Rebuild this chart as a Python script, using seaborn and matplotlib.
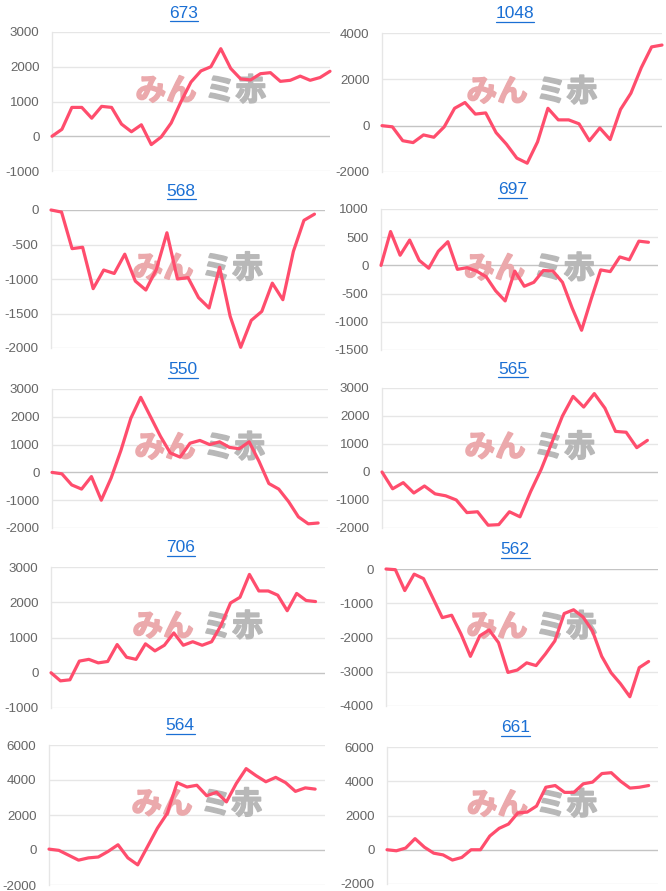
import matplotlib
matplotlib.use("Agg")
import matplotlib.pyplot as plt
import matplotlib.patheffects as pe
import seaborn as sns
import pandas as pd
from matplotlib.lines import Line2D

sns.set_style("white")
plt.rcParams["font.family"] = ["Liberation Sans", "DejaVu Sans"]

titles = ["673", "1048", "568", "697", "550", "565", "706", "562", "564", "661"]

s673 = [0, 200, 830, 830, 520, 860, 830, 350, 130, 330, -240, -20, 380, 1000, 1560,
        1880, 2000, 2520, 1950, 1650, 1620, 1800, 1830, 1580, 1610, 1730, 1610, 1690, 1870]
s1048 = [0, -50, -650, -730, -400, -500, -50, 750, 1000, 500, 550, -300, -800, -1400,
         -1620, -700, 750, 250, 250, 80, -650, -100, -600, 700, 1400, 2500, 3400, 3480]
s568 = [0, -30, -560, -540, -1140, -870, -920, -640, -1030, -1160, -860, -330, -1000,
        -980, -1270, -1420, -830, -1540, -1990, -1600, -1470, -1060, -1300, -600, -150, -60]
s697 = [0, 600, 180, 450, 90, -50, 250, 420, -70, -40, -100, -200, -450, -630, -100,
        -370, -300, -90, -100, -300, -750, -1150, -600, -80, -110, 150, 100, 430, 410]
s550 = [0, -50, -450, -600, -150, -1000, -200, 800, 1950, 2700, 2000, 1300, 700, 550,
        1050, 1150, 1000, 1100, 900, 850, 1100, 400, -400, -600, -1050, -1600, -1850, -1820]
s565 = [0, -600, -380, -750, -500, -780, -850, -1000, -1450, -1420, -1900, -1880, -1420,
        -1600, -700, 100, 1050, 2000, 2700, 2320, 2800, 2280, 1450, 1420, 870, 1130]
s706 = [0, -230, -200, 330, 380, 280, 320, 800, 440, 380, 820, 620, 780, 1130, 780, 880,
        780, 880, 1350, 1980, 2140, 2790, 2320, 2320, 2200, 1760, 2250, 2050, 2020]
s562 = [0, -20, -630, -150, -280, -850, -1420, -1350, -1900, -2550, -1950, -1780, -2150,
        -3020, -2950, -2740, -2820, -2480, -2100, -1300, -1190, -1400, -1800, -2550, -3030,
        -3350, -3730, -2880, -2700]
s564 = [50, -20, -300, -580, -450, -400, -80, 300, -450, -850, 200, 1250, 2100, 3850, 3600,
        3700, 3100, 3300, 2750, 3800, 4650, 4250, 3900, 4150, 3850, 3350, 3550, 3480]
s661 = [0, -60, 100, 650, 150, -200, -300, -600, -450, 0, 0, 800, 1250, 1500, 2150, 2200,
        2550, 3650, 3750, 3350, 3350, 3850, 3950, 4450, 4500, 4000, 3600, 3650, 3750]

series = [s673, s1048, s568, s697, s550, s565, s706, s562, s564, s661]

yticks = [
    [-1000, 0, 1000, 2000, 3000],
    [-2000, 0, 2000, 4000],
    [-2000, -1500, -1000, -500, 0],
    [-1500, -1000, -500, 0, 500, 1000],
    [-2000, -1000, 0, 1000, 2000, 3000],
    [-2000, -1000, 0, 1000, 2000, 3000],
    [-1000, 0, 1000, 2000, 3000],
    [-4000, -3000, -2000, -1000, 0],
    [-2000, 0, 2000, 4000, 6000],
    [-2000, 0, 2000, 4000, 6000],
]

# layout (pixels): left, top, right, bottom, x-slots
boxes = [
    (52, 32, 330, 171, 28),
    (382, 33, 662, 172, 27),
    (51, 210, 325, 348, 26),
    (381, 209, 658, 350, 29),
    (52, 389, 328, 528, 28),
    (382, 388, 658, 528, 26),
    (51, 567, 325, 708, 29),
    (386, 569, 658, 706, 29),
    (49, 745, 325, 885, 28),
    (387, 747, 658, 884, 29),
]

W, H = 666, 891
fig = plt.figure(figsize=(W / 100, H / 100), dpi=100)
fig.patch.set_facecolor("white")

LINE = "#ff4d6d"
GRID = "#e6e6e6"
ZERO = "#c4c4c4"
BLUE = "#1a6fd4"
PINK_WM = "#eba9ac"
GRAY_WM = "#b8b8b8"

title_texts = []
for i, (name, vals, ticks, box) in enumerate(zip(titles, series, yticks, boxes)):
    l, t, r, b, slots = box
    ax = fig.add_axes([l / W, 1 - b / H, (r - l) / W, (b - t) / H])
    ax.set_facecolor("white")
    df = pd.DataFrame({"x": range(len(vals)), "y": vals})
    sns.lineplot(data=df, x="x", y="y", ax=ax, color=LINE, linewidth=2.3, zorder=5)
    for ln in ax.lines:
        ln.set_clip_on(False)
        ln.set_solid_joinstyle("round")
        ln.set_solid_capstyle("round")
    ax.set_xlim(0, slots)
    ax.set_ylim(ticks[0], ticks[-1])
    ax.set_yticks(ticks)
    ax.set_yticklabels([str(v) for v in ticks])
    ax.set_xticks([])
    ax.set_xlabel("")
    ax.set_ylabel("")
    for v in ticks:
        ax.axhline(v, color=ZERO if v == 0 else GRID, linewidth=1.0, zorder=1)
    for s in ["top", "right", "bottom"]:
        ax.spines[s].set_visible(False)
    ax.spines["left"].set_color(GRID)
    ax.spines["left"].set_linewidth(1.0)
    ax.tick_params(axis="y", length=7.5, width=0.75, color=GRID, pad=1.5,
                   labelsize=9.6, labelcolor="#666666")
    # watermark
    ax.text(0.52, 0.575, "みん", transform=ax.transAxes, ha="right", va="center",
            fontsize=22, fontweight="bold", color=PINK_WM,
            family=["Noto Sans CJK JP", "DejaVu Sans"], zorder=2,
            path_effects=[pe.withStroke(linewidth=1.2, foreground=PINK_WM)])
    ax.text(0.55, 0.575, "ミ赤", transform=ax.transAxes, ha="left", va="center",
            fontsize=22, fontweight="bold", color=GRAY_WM,
            family=["Noto Sans CJK JP", "DejaVu Sans"], zorder=2,
            path_effects=[pe.withStroke(linewidth=1.2, foreground=GRAY_WM)])
    cx = (l + r) / 2 - 7
    ty = t - 19
    tt = fig.text(cx / W, 1 - ty / H, name, ha="center", va="center",
                  fontsize=12.5, color=BLUE)
    title_texts.append(tt)

fig.canvas.draw()
renderer = fig.canvas.get_renderer()
for tt in title_texts:
    bb = tt.get_window_extent(renderer)
    y = bb.y0 - 0.5
    fig.add_artist(Line2D([bb.x0 / W, bb.x1 / W], [y / H, y / H],
                          transform=fig.transFigure, color=BLUE, linewidth=0.9))

fig.savefig("out.png", dpi=100, facecolor="white")
